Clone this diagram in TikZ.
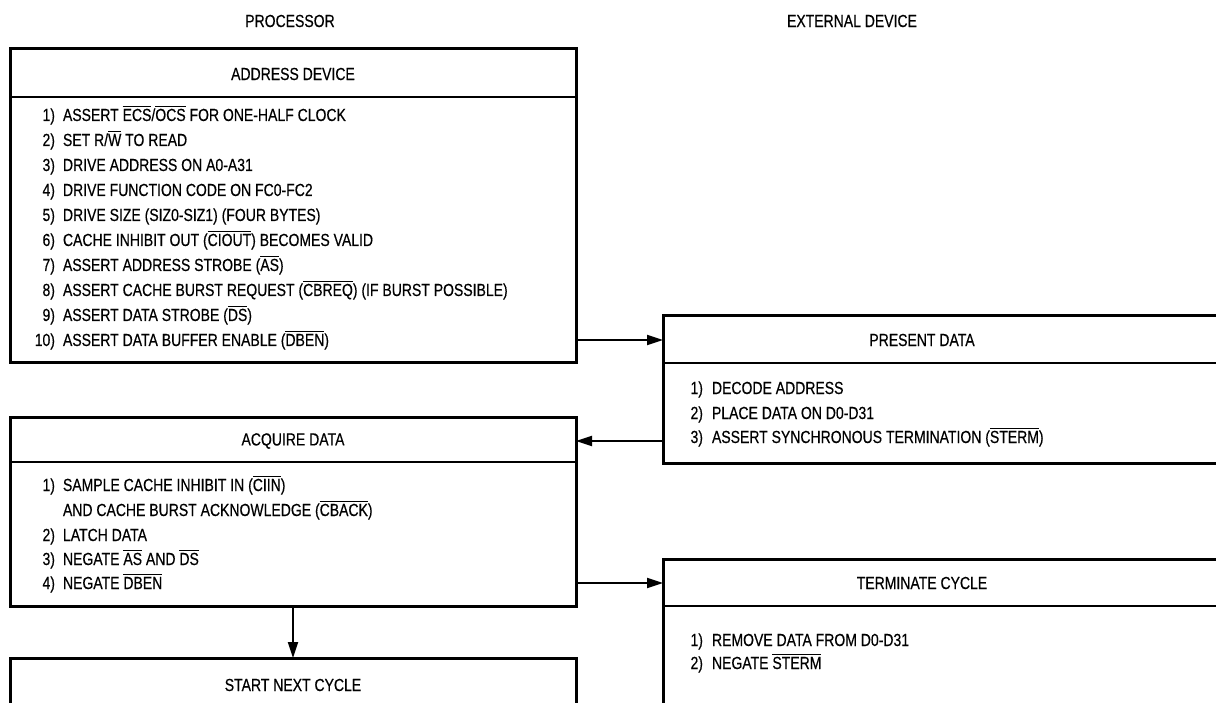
\documentclass[tikz,border=0pt]{standalone}
\usepackage{fontspec}
\setmainfont{Liberation Sans}[FakeStretch=0.8,FakeBold=0.4]
\usetikzlibrary{arrows.meta,calc}
\newcommand\ovl[1]{\vbox{\hrule height 1pt\kern1.8pt\hbox{#1}}}
\begin{document}
\begin{tikzpicture}[x=1pt,y=-1pt,
  every node/.style={inner sep=0pt, outer sep=0pt, font=\fontsize{17.5}{20}\selectfont},
  box/.style={draw, line width=3pt, rectangle, anchor=north west},
  div/.style={line width=2pt},
  arr/.style={line width=2.2pt, -{Triangle[length=16pt,width=10pt]}},
  num/.style={anchor=base east},
  item/.style={anchor=base west}]
\useasboundingbox (0,0) rectangle (1216,703);
\clip (0,0) rectangle (1216,703);
\fill[white] (0,0) rectangle (1216,703);

% column titles
\node (proc) at (290,21) {PROCESSOR};
\node (ext) at (852,21) {EXTERNAL DEVICE};

% boxes
\node[box, minimum width=566pt, minimum height=314pt] (addr) at (10,49) {};
\node[box, minimum width=566pt, minimum height=189pt] (acq) at (10,417) {};
\node[box, minimum width=566pt, minimum height=120pt] (start) at (10,658) {};
\node[box, minimum width=640pt, minimum height=147pt] (pres) at (663,316) {};
\node[box, minimum width=640pt, minimum height=200pt] (term) at (663,559) {};

% dividers
\draw[div] (addr.west |- 0,97) -- (addr.east |- 0,97);
\draw[div] (acq.west |- 0,462) -- (acq.east |- 0,462);
\draw[div] (pres.west |- 0,363) -- (1216,363);
\draw[div] (term.west |- 0,606) -- (1216,606);

% headers
\node (addrh) at (293,74) {ADDRESS DEVICE};
\node (acqh) at (293,441) {ACQUIRE DATA};
\node (starth) at (293,685) {START NEXT CYCLE};
\node (presh) at (922,340) {PRESENT DATA};
\node (termh) at (922,583) {TERMINATE CYCLE};

% address device items
\node[num] (an1) at (55,121) {1)};
\node[item] (at1) at (63,121) {ASSERT \ovl{ECS}/\ovl{OCS} FOR ONE-HALF CLOCK};
\node[num] (an2) at (55,146) {2)};
\node[item] (at2) at (63,146) {SET R/\ovl{W} TO READ};
\node[num] (an3) at (55,171) {3)};
\node[item] (at3) at (63,171) {DRIVE ADDRESS ON A0-A31};
\node[num] (an4) at (55,196) {4)};
\node[item] (at4) at (63,196) {DRIVE FUNCTION CODE ON FC0-FC2};
\node[num] (an5) at (55,221) {5)};
\node[item] (at5) at (63,221) {DRIVE SIZE (SIZ0-SIZ1) (FOUR BYTES)};
\node[num] (an6) at (55,246) {6)};
\node[item] (at6) at (63,246) {CACHE INHIBIT OUT (\ovl{CIOUT}) BECOMES VALID};
\node[num] (an7) at (55,271) {7)};
\node[item] (at7) at (63,271) {ASSERT ADDRESS STROBE (\ovl{AS})};
\node[num] (an8) at (55,296) {8)};
\node[item] (at8) at (63,296) {ASSERT CACHE BURST REQUEST (\ovl{CBREQ}) (IF BURST POSSIBLE)};
\node[num] (an9) at (55,321) {9)};
\node[item] (at9) at (63,321) {ASSERT DATA STROBE (\ovl{DS})};
\node[num] (an10) at (55,346) {10)};
\node[item] (at10) at (63,346) {ASSERT DATA BUFFER ENABLE (\ovl{DBEN})};

% acquire data items
\node[num] (qn1) at (55,491) {1)};
\node[item] (qt1) at (63,491) {SAMPLE CACHE INHIBIT IN (\ovl{CIIN})};
\node[item] (qt1b) at (63,516) {AND CACHE BURST ACKNOWLEDGE (\ovl{CBACK})};
\node[num] (qn2) at (55,541) {2)};
\node[item] (qt2) at (63,541) {LATCH DATA};
\node[num] (qn3) at (55,565) {3)};
\node[item] (qt3) at (63,565) {NEGATE \ovl{AS} AND \ovl{DS}};
\node[num] (qn4) at (55,589) {4)};
\node[item] (qt4) at (63,589) {NEGATE \ovl{DBEN}};

% present data items
\node[num] (pn1) at (703,394) {1)};
\node[item] (pt1) at (712,394) {DECODE ADDRESS};
\node[num] (pn2) at (703,419) {2)};
\node[item] (pt2) at (712,419) {PLACE DATA ON D0-D31};
\node[num] (pn3) at (703,443) {3)};
\node[item] (pt3) at (712,443) {ASSERT SYNCHRONOUS TERMINATION (\ovl{STERM})};

% terminate cycle items
\node[num] (tn1) at (703,646) {1)};
\node[item] (tt1) at (712,646) {REMOVE DATA FROM D0-D31};
\node[num] (tn2) at (703,669) {2)};
\node[item] (tt2) at (712,669) {NEGATE \ovl{STERM}};

% connectors
\draw[arr] (addr.east |- presh) -- (pres.west |- presh);
\draw[arr] (pres.west |- acqh) -- (acq.east |- acqh);
\draw[arr] (acq.east |- termh) -- (term.west |- termh);
\draw[arr] (acq.south) -- (start.north);
\end{tikzpicture}
\end{document}
